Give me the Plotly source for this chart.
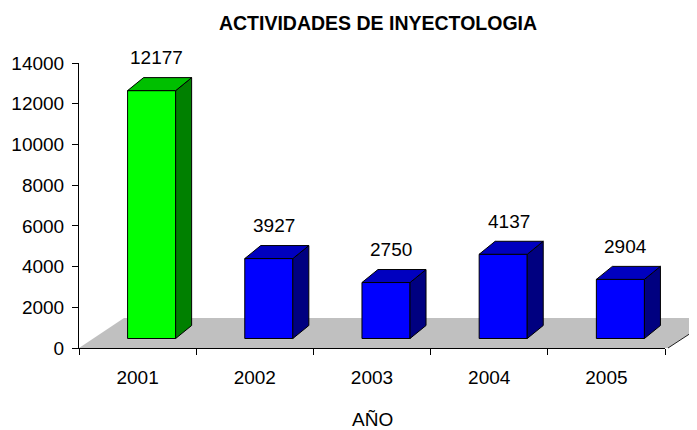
import plotly.graph_objects as go

# ---- data ----
years = ["2001", "2002", "2003", "2004", "2005"]
values = [12177, 3927, 2750, 4137, 2904]
y_ticks = [0, 2000, 4000, 6000, 8000, 10000, 12000, 14000]

title_text = "ACTIVIDADES DE INYECTOLOGIA"
x_title = "AÑO"

# ---- style ----
FONT = "Liberation Sans, Arial, sans-serif"
PAGE_OFF = 8                      # default body margin of the html page
W, H = 697 - PAGE_OFF, 430 - PAGE_OFF
ML, MT = 79 - PAGE_OFF, 63 - PAGE_OFF
plot_w, plot_h = 586, 285
MR = W - ML - plot_w
MB = H - MT - plot_h
YMAX = 14000
px_per_cat = plot_w / len(years)
px_per_unit = plot_h / YMAX

front_cols = ["#00FF00"] + ["#0000FF"] * 4
side_cols = ["#008000"] + ["#000080"] * 4
top_cols = ["#00BF00"] + ["#0000BF"] * 4

bar_w = 0.41          # category units
depth_dx = 16 / px_per_cat
depth_dy = 13 / px_per_unit
shift_x = 14 / px_per_cat
shift_y = 9.5 / px_per_unit

fig = go.Figure()

# invisible trace on main axes to build category axis
fig.add_trace(go.Scatter(x=years, y=[None] * len(years), mode="markers",
                         showlegend=False, hoverinfo="skip"))

idx = list(range(len(years)))

# front faces
fig.add_trace(go.Bar(x=idx, y=values, width=bar_w, xaxis="x2", yaxis="y2",
                     marker=dict(color=front_cols, line=dict(color="black", width=1)),
                     showlegend=False, hoverinfo="skip"))

# side and top faces
for i, v in enumerate(values):
    xr = i + bar_w / 2
    xl = i - bar_w / 2
    fig.add_trace(go.Scatter(
        x=[xr, xr, xr + depth_dx, xr + depth_dx, xr],
        y=[0, v, v + depth_dy, depth_dy, 0],
        xaxis="x2", yaxis="y2", mode="lines", fill="toself",
        fillcolor=side_cols[i], line=dict(color="black", width=1),
        showlegend=False, hoverinfo="skip"))
    fig.add_trace(go.Scatter(
        x=[xl, xr, xr + depth_dx, xl + depth_dx, xl],
        y=[v, v, v + depth_dy, v + depth_dy, v],
        xaxis="x2", yaxis="y2", mode="lines", fill="toself",
        fillcolor=top_cols[i], line=dict(color="black", width=1),
        showlegend=False, hoverinfo="skip"))
    fig.add_annotation(x=i + depth_dx / 3, y=v, xref="x2", yref="y2",
                       text=str(v), showarrow=False, yanchor="middle",
                       yshift=33, font=dict(family=FONT, size=19, color="black"))

# floor (decorative 3D base), given in reference-page pixels
def px2paper(px, py):
    return (px - 79) / plot_w, (348 - py) / plot_h

pts = [px2paper(79, 348), px2paper(124, 318), px2paper(714, 318), px2paper(668, 348)]
path = "M " + " L ".join(f"{x},{y}" for x, y in pts) + " Z"
fig.add_shape(type="path", path=path, xref="paper", yref="paper",
              fillcolor="#C0C0C0", line=dict(width=0), layer="below")
a, b = px2paper(668, 348), px2paper(714, 318)
fig.add_shape(type="line", x0=a[0], y0=a[1], x1=b[0], y1=b[1], xref="paper", yref="paper",
              line=dict(color="#202020", width=1), layer="below")

fig.add_annotation(x=0.5, y=(348 - 420) / plot_h, xref="paper", yref="paper",
                   text=x_title, showarrow=False, yanchor="middle",
                   font=dict(family=FONT, size=19, color="black"))

fig.update_layout(
    width=W, height=H,
    margin=dict(l=ML, r=MR, t=MT, b=MB, pad=0, autoexpand=False),
    paper_bgcolor="white", plot_bgcolor="rgba(0,0,0,0)",
    title=dict(text=f"<b>{title_text}</b>", x=(378 - PAGE_OFF) / W, xref="container",
               xanchor="center", y=1 - (22.7 - PAGE_OFF) / H, yref="container",
               yanchor="middle", font=dict(family=FONT, size=19.5, color="black")),
    xaxis=dict(type="category", categoryorder="array", categoryarray=years,
               range=[-0.5, len(years) - 0.5], showline=True, linecolor="black", linewidth=1,
               ticks="outside", ticklen=6, tickcolor="black", tickson="boundaries",
               showgrid=False, zeroline=False, ticklabelstandoff=12, automargin=False,
               tickfont=dict(family=FONT, size=19, color="black")),
    yaxis=dict(range=[0, YMAX], tickvals=y_ticks, ticktext=[str(t) for t in y_ticks],
               showline=True, linecolor="black",
               linewidth=1, ticks="outside", ticklen=6, tickcolor="black",
               showgrid=False, zeroline=False, ticklabelstandoff=4, automargin=False,
               tickfont=dict(family=FONT, size=19, color="black")),
    xaxis2=dict(overlaying="x", range=[-0.5 - shift_x, len(years) - 0.5 - shift_x],
                visible=False, showgrid=False, zeroline=False),
    yaxis2=dict(overlaying="y", range=[-shift_y, YMAX - shift_y],
                visible=False, showgrid=False, zeroline=False),
    showlegend=False,
)

fig.write_html("out.html")
